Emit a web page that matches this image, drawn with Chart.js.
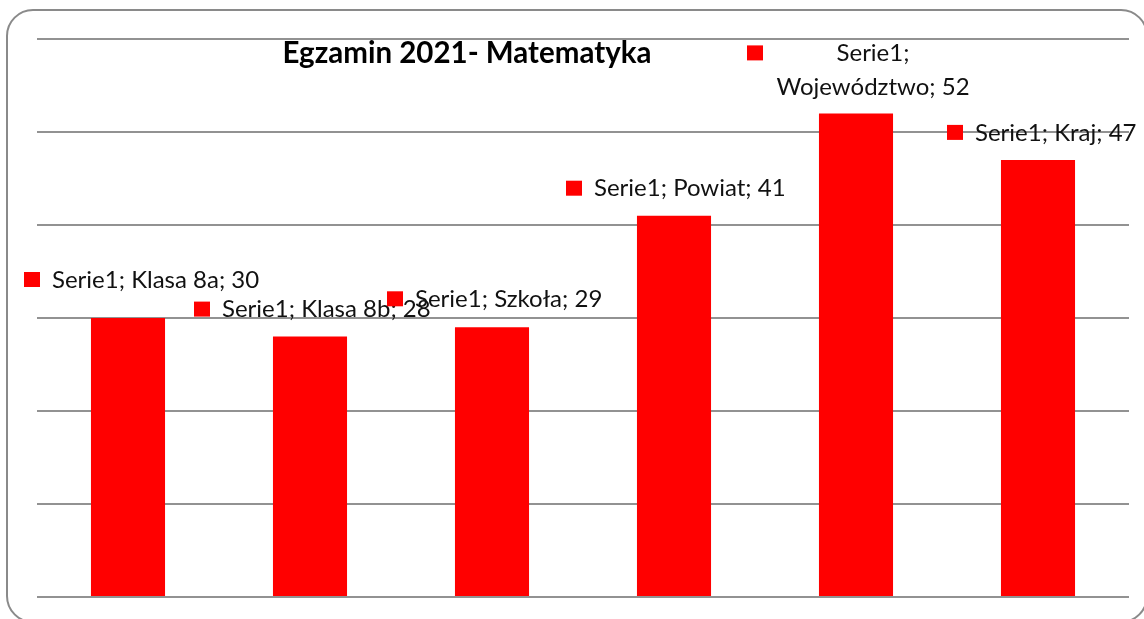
<!DOCTYPE html>
<html>
<head>
<meta charset="utf-8">
<script src="https://cdn.jsdelivr.net/npm/chart.js"></script>
<style>
  html, body { margin: 0; padding: 0; background: #fff; }
  #wrap { width: 1144px; height: 619px; }
</style>
</head>
<body>
<div id="wrap"><canvas id="chart" width="1144" height="619"></canvas></div>
<script>
// dane wykresu
const seriesName = "Serie1";
const categories = ["Klasa 8a", "Klasa 8b", "Szkoła", "Powiat", "Województwo", "Kraj"];
const values = [30, 28, 29, 41, 52, 47];
const yMin = 0;
const yMax = 60;
const yStep = 10;
const chartTitle = "Egzamin 2021- Matematyka";

// przesuniecia etykiet wzgledem srodka/szczytu slupka (jak w Excelu, recznie przesuniete)
const labelShift = [
  [-104, -39],
  [-116, -28],
  [-105, -29],
  [-108, -28],
  [-109, -61],
  [-91, -28]
];

const labelFont = "24px Lato, 'Open Sans', sans-serif";

// ramka, tytul i etykiety danych
const decorPlugin = {
  id: "decor",
  beforeDraw(chart) {
    const ctx = chart.ctx;
    ctx.save();
    ctx.fillStyle = "#fff";
    ctx.fillRect(0, 0, chart.width, chart.height);
    ctx.strokeStyle = "#8a8a8a";
    ctx.lineWidth = 2;
    ctx.beginPath();
    ctx.roundRect(7, 10, 1140, 612, 26);
    ctx.stroke();
    ctx.restore();
  },
  afterDatasetsDraw(chart) {
    const ctx = chart.ctx;
    const meta = chart.getDatasetMeta(0);
    ctx.save();

    // tytul
    ctx.font = "bold 29.5px Lato, 'Open Sans', sans-serif";
    ctx.fillStyle = "#000";
    ctx.textAlign = "center";
    ctx.textBaseline = "middle";
    ctx.fillText(chartTitle, 467, 53);

    ctx.font = labelFont;
    meta.data.forEach((bar, i) => {
      const [dx, dy] = labelShift[i];
      const sx = bar.x + dx;
      const cy = bar.y + dy;
      ctx.fillStyle = "#ff0000";
      ctx.fillRect(sx, cy - 7, 16, 15);
      ctx.fillStyle = "#111";
      ctx.textBaseline = "middle";
      if (categories[i] === "Województwo") {
        // dwie linie wysrodkowane
        const line2 = categories[i] + "; " + values[i];
        const cx = sx + 126;
        ctx.textAlign = "center";
        ctx.fillText(seriesName + ";", cx, cy + 1);
        ctx.fillText(line2, cx, cy + 35);
      } else {
        ctx.textAlign = "left";
        ctx.fillText(seriesName + "; " + categories[i] + "; " + values[i], sx + 28, cy + 1);
      }
    });
    ctx.restore();
  }
};

new Chart(document.getElementById("chart"), {
  type: "bar",
  data: {
    labels: categories,
    datasets: [{
      label: seriesName,
      data: values,
      backgroundColor: "#ff0000",
      borderWidth: 0,
      barPercentage: 1,
      categoryPercentage: 0.407
    }]
  },
  options: {
    responsive: false,
    animation: false,
    layout: { padding: { left: 37, right: 15, top: 39, bottom: 22 } },
    plugins: {
      legend: { display: false },
      title: { display: false },
      tooltip: { enabled: false }
    },
    scales: {
      x: {
        grid: { display: false, drawTicks: false },
        border: { display: false },
        ticks: { display: false }
      },
      y: {
        min: yMin,
        max: yMax,
        ticks: { display: false, stepSize: yStep },
        grid: { color: "#929292", lineWidth: 2, drawTicks: false },
        border: { display: false }
      }
    }
  },
  plugins: [decorPlugin]
});
</script>
</body>
</html>
